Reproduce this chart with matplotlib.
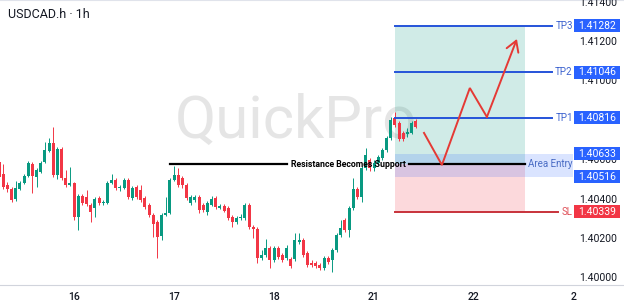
import matplotlib.pyplot as plt
from matplotlib.patches import Rectangle
from matplotlib.transforms import blended_transform_factory

plt.rcParams['font.family'] = ['Roboto', 'DejaVu Sans']

# hourly candles, hour index counted from the start of day 16 (weekend skipped)
hours = list(range(-18, 83))
opens = [1.40590, 1.40529, 1.40474, 1.40453, 1.40402, 1.40453, 1.40484, 1.40519, 1.40580, 1.40514,
         1.40540, 1.40590, 1.40646, 1.40687, 1.40524, 1.40656, 1.40509, 1.40474,
         1.40484, 1.40311, 1.40418, 1.40413, 1.40372, 1.40357, 1.40408, 1.40382, 1.40382, 1.40484,
         1.40499, 1.40458, 1.40458, 1.40499, 1.40408, 1.40463, 1.40448, 1.40408, 1.40372, 1.40321,
         1.40286, 1.40215, 1.40321, 1.40331,
         1.40499, 1.40524, 1.40509, 1.40474, 1.40382, 1.40397, 1.40413, 1.40372, 1.40336, 1.40372,
         1.40408, 1.40357, 1.40367, 1.40357, 1.40311, 1.40286, 1.40306, 1.40306, 1.40372, 1.40260,
         1.40250, 1.40103, 1.40118, 1.40154,
         1.40093, 1.40154, 1.40118, 1.40103, 1.40098, 1.40098, 1.40184, 1.40194, 1.40128, 1.40078,
         1.40078, 1.40067, 1.40052, 1.40103, 1.40093, 1.40144, 1.40220, 1.40296, 1.40245, 1.40357,
         1.40453, 1.40413, 1.40560, 1.40601,
         1.40560, 1.40585, 1.40611, 1.40651, 1.40712, 1.40814, 1.40788, 1.40738, 1.40732, 1.40738,
         1.40798]
closes = [1.40514, 1.40463, 1.40453, 1.40397, 1.40458, 1.40484, 1.40519, 1.40585, 1.40519, 1.40550,
          1.40585, 1.40651, 1.40687, 1.40524, 1.40656, 1.40509, 1.40474, 1.40484,
          1.40311, 1.40418, 1.40382, 1.40377, 1.40336, 1.40402, 1.40382, 1.40387, 1.40484, 1.40499,
          1.40458, 1.40463, 1.40499, 1.40413, 1.40458, 1.40413, 1.40397, 1.40362, 1.40321, 1.40276,
          1.40210, 1.40321, 1.40331, 1.40499,
          1.40524, 1.40474, 1.40474, 1.40408, 1.40413, 1.40413, 1.40347, 1.40347, 1.40382, 1.40402,
          1.40362, 1.40367, 1.40342, 1.40306, 1.40286, 1.40306, 1.40311, 1.40372, 1.40260, 1.40250,
          1.40103, 1.40118, 1.40154, 1.40093,
          1.40154, 1.40108, 1.40093, 1.40154, 1.40062, 1.40194, 1.40194, 1.40118, 1.40067, 1.40067,
          1.40062, 1.40052, 1.40103, 1.40083, 1.40144, 1.40220, 1.40255, 1.40245, 1.40357, 1.40453,
          1.40413, 1.40560, 1.40626, 1.40560,
          1.40585, 1.40616, 1.40651, 1.40712, 1.40804, 1.40778, 1.40707, 1.40707, 1.40743, 1.40788,
          1.40768]
highs = [1.40611, 1.40580, 1.40489, 1.40463, 1.40494, 1.40494, 1.40529, 1.40595, 1.40590, 1.40560,
         1.40595, 1.40692, 1.40712, 1.40768, 1.40666, 1.40666, 1.40550, 1.40565,
         1.40489, 1.40428, 1.40428, 1.40448, 1.40382, 1.40413, 1.40418, 1.40397, 1.40494, 1.40529,
         1.40509, 1.40474, 1.40509, 1.40509, 1.40468, 1.40474, 1.40474, 1.40418, 1.40382, 1.40331,
         1.40296, 1.40331, 1.40413, 1.40509,
         1.40570, 1.40560, 1.40519, 1.40484, 1.40423, 1.40423, 1.40423, 1.40382, 1.40392, 1.40418,
         1.40418, 1.40377, 1.40377, 1.40367, 1.40321, 1.40316, 1.40326, 1.40382, 1.40382, 1.40270,
         1.40260, 1.40144, 1.40199, 1.40164,
         1.40164, 1.40164, 1.40128, 1.40169, 1.40108, 1.40230, 1.40230, 1.40204, 1.40139, 1.40093,
         1.40088, 1.40078, 1.40113, 1.40113, 1.40154, 1.40230, 1.40296, 1.40306, 1.40367, 1.40509,
         1.40463, 1.40570, 1.40661, 1.40611,
         1.40601, 1.40626, 1.40661, 1.40722, 1.40819, 1.40844, 1.40798, 1.40748, 1.40763, 1.40798,
         1.40809]
lows = [1.40504, 1.40453, 1.40438, 1.40387, 1.40392, 1.40448, 1.40479, 1.40514, 1.40433, 1.40463,
        1.40534, 1.40585, 1.40641, 1.40514, 1.40504, 1.40499, 1.40463, 1.40468,
        1.40296, 1.40245, 1.40372, 1.40367, 1.40286, 1.40311, 1.40372, 1.40372, 1.40377, 1.40479,
        1.40448, 1.40443, 1.40453, 1.40402, 1.40397, 1.40402, 1.40387, 1.40352, 1.40311, 1.40210,
        1.40103, 1.40194, 1.40316, 1.40326,
        1.40494, 1.40463, 1.40458, 1.40397, 1.40372, 1.40387, 1.40331, 1.40336, 1.40321, 1.40367,
        1.40352, 1.40352, 1.40336, 1.40296, 1.40260, 1.40276, 1.40296, 1.40296, 1.40250, 1.40204,
        1.40078, 1.40093, 1.40108, 1.40052,
        1.40083, 1.40098, 1.40083, 1.40093, 1.40052, 1.40088, 1.40174, 1.40108, 1.40057, 1.40057,
        1.40052, 1.40042, 1.40042, 1.40073, 1.40032, 1.40133, 1.40210, 1.40235, 1.40210, 1.40347,
        1.40402, 1.40387, 1.40550, 1.40545,
        1.40545, 1.40575, 1.40601, 1.40641, 1.40702, 1.40768, 1.40697, 1.40697, 1.40717, 1.40732,
        1.40763]

day_ticks = [0, 24, 48, 72, 96, 120]
day_labels = ['16', '17', '18', '21', '22', '2']
price_ticks = [1.400, 1.402, 1.404, 1.406, 1.408, 1.410, 1.412, 1.414]

# trade setup drawn on the chart
support_level = 1.40580
tp_levels = [1.40816, 1.41046, 1.41282]
tp_names = ['TP1', 'TP2', 'TP3']
sl_level = 1.40339
entry_zone = [1.40516, 1.40633]
path_hours = [84.0, 88.3, 95.0, 99.1, 106.3]
path_prices = [1.40738, 1.40575, 1.40966, 1.40819, 1.41215]

UP = '#089981'
DOWN = '#f23645'
BLUE = '#2962ff'
TEXT = '#131722'

fig = plt.figure(figsize=(6.24, 3.07), dpi=100)
ax = fig.add_axes([0, 22 / 307, 1, 285 / 307])
ax.set_xlim(-17.76, 132.0)
ax.set_ylim(1.39966, 1.414127)

# watermark
ax.text(0.474, 0.517, 'QuickPro', transform=ax.transAxes, ha='center', va='baseline',
        fontsize=43, color='#e5e5e5', zorder=0)

# candles
for h, o, c, hi, lo in zip(hours, opens, closes, highs, lows):
    col = UP if c >= o else DOWN
    ax.vlines(h, lo, hi, color=col, linewidth=0.7, zorder=3)
    body = max(abs(c - o), 0.000012)
    ax.bar(h, body, bottom=min(o, c), width=0.72, color=col, linewidth=0, zorder=3)

# long position tool
start, box_end = 77.0, 108.2
ax.add_patch(Rectangle((start, support_level), box_end - start, tp_levels[2] - support_level,
                       facecolor=UP, alpha=0.19, linewidth=0, zorder=1))
ax.add_patch(Rectangle((start, sl_level), box_end - start, support_level - sl_level,
                       facecolor=DOWN, alpha=0.19, linewidth=0, zorder=1))
ax.add_patch(Rectangle((start, entry_zone[0]), 119.8 - start, entry_zone[1] - entry_zone[0],
                       facecolor=BLUE, alpha=0.17, linewidth=0, zorder=1.5))

# support line, broken where its text sits
ax.plot([23.0, 51.1], [support_level] * 2, color='black', linewidth=1.6, zorder=4)
ax.plot([80.4, box_end], [support_level] * 2, color='black', linewidth=1.6, zorder=4)
ax.text(65.8, support_level, 'Resistance Becomes Support', ha='center', va='center',
        fontsize=6.3, fontweight='bold', color='black', zorder=5)

trans = blended_transform_factory(ax.transAxes, ax.transData)
for lvl, name in zip(tp_levels, tp_names):
    ax.plot([start, 114.7], [lvl, lvl], color='#2553d9', linewidth=1.4, zorder=4)
    ax.text(0.918, lvl, name, transform=trans, ha='right', va='center', fontsize=7,
            color='#3d63cf', zorder=5)
ax.plot([start, 116.2], [sl_level, sl_level], color='#c8323a', linewidth=1.4, zorder=4)
ax.text(0.918, sl_level, 'SL', transform=trans, ha='right', va='center', fontsize=7,
        color='#e0525a', zorder=5)
ax.text(0.918, support_level, 'Area Entry', transform=trans, ha='right', va='center',
        fontsize=7, color='#4a6cc4', zorder=5)

# red projected path
ax.plot(path_hours[:-1], path_prices[:-1], color='#e53935', linewidth=1.4,
        solid_joinstyle='miter', zorder=6)
ax.annotate('', xy=(path_hours[-1], path_prices[-1]), xytext=(path_hours[-2], path_prices[-2]),
            arrowprops=dict(arrowstyle='->,head_length=0.75,head_width=0.45', color='#e53935',
                            linewidth=1.4, shrinkA=0, shrinkB=0), zorder=6)

# price scale
for p in price_ticks:
    ax.text(0.9888, p, f'{p:.5f}', transform=trans, ha='right', va='center',
            fontsize=7.5, color=TEXT, zorder=5)
box_h = 0.00064
for lvl, col in [(tp_levels[0], BLUE), (tp_levels[1], BLUE), (tp_levels[2], BLUE),
                 (entry_zone[1], BLUE), (entry_zone[0], BLUE), (sl_level, DOWN)]:
    ax.add_patch(Rectangle((0.92, lvl - box_h / 2), 0.074, box_h, transform=trans,
                           facecolor=col, linewidth=0, zorder=6, clip_on=False))
    ax.text(0.957, lvl, f'{lvl:.5f}', transform=trans, ha='center', va='center',
            fontsize=7.5, color='white', zorder=7)

ax.set_xticks(day_ticks)
ax.set_xticklabels(day_labels)
ax.set_yticks([])
ax.tick_params(axis='x', length=0, pad=5, labelsize=7.5, labelcolor=TEXT)
for lab in ax.get_xticklabels():
    lab.set_fontweight('medium')
for side in ['left', 'right']:
    ax.spines[side].set_visible(False)
ax.spines['bottom'].set_color('#d1d4dc')
ax.spines['top'].set_color('#e0e3eb')

fig.text(8 / 624, 1 - 14 / 307, 'USDCAD.h · 1h', va='center', ha='left', fontsize=9, color=TEXT)

fig.savefig('out.png', dpi=100)
